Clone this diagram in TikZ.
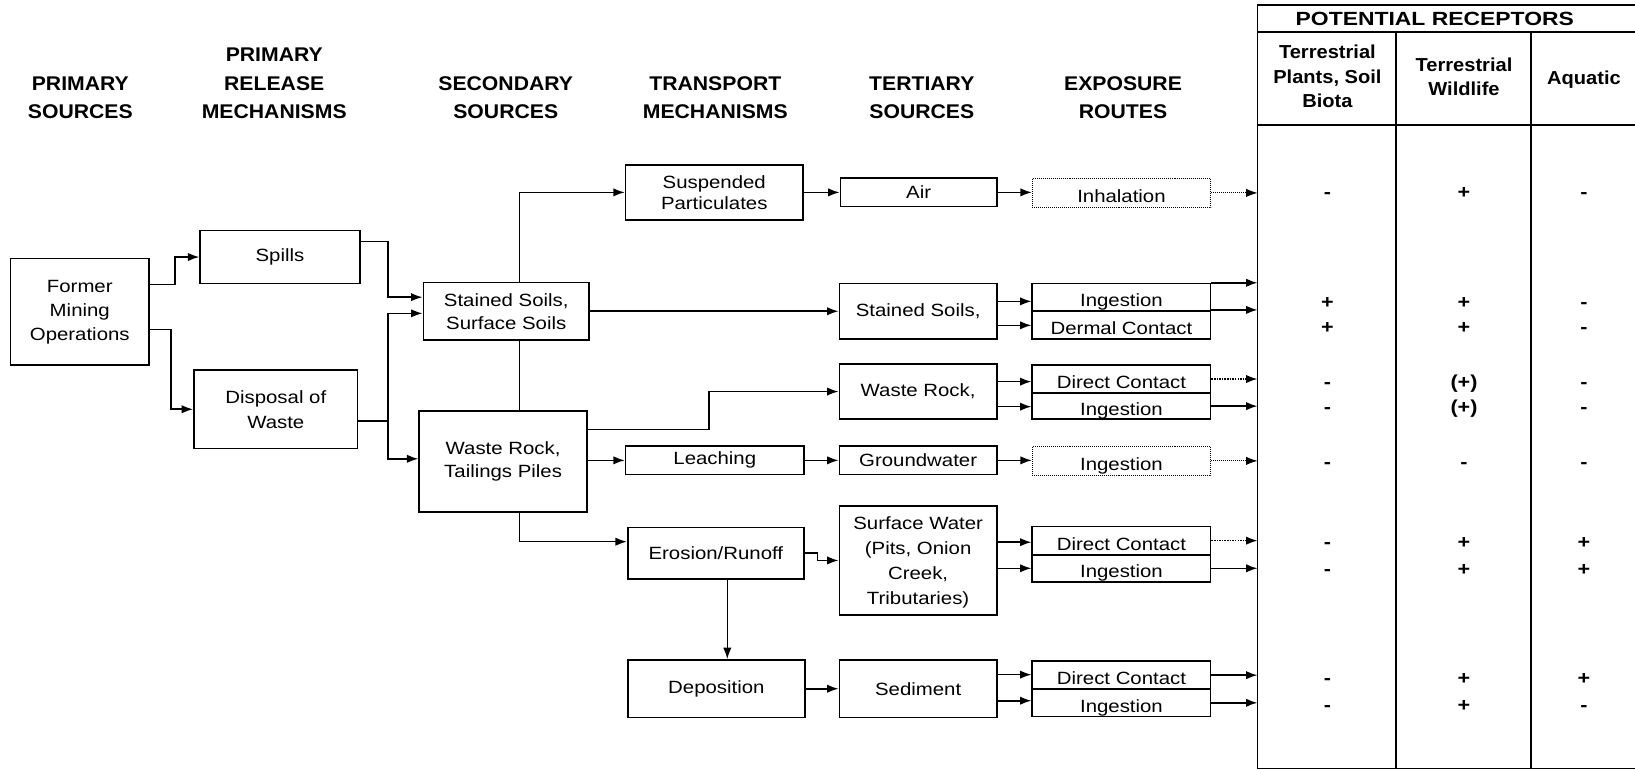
\documentclass[tikz,border=0pt]{standalone}
\usepackage{fontspec}
\setmainfont{Liberation Sans}[FakeStretch=1.15]
\newfontfamily\headfont{Liberation Sans}[FakeStretch=1.07]
\newfontfamily\widefont{Liberation Sans}[FakeStretch=1.2]
\usetikzlibrary{arrows.meta}
\begin{document}
\begin{tikzpicture}[x=1pt,y=-1pt,
 box/.style={draw, line width=1.6pt, inner sep=0pt, align=center, font=\fontsize{17}{22}\selectfont},
 route/.style={box, text height=18pt, text depth=0pt},
 dotbox/.style={route, line width=0.9pt, densely dotted},
 conn/.style={line width=1.5pt, -{Latex[length=11pt,width=8pt]}},
 plain/.style={line width=1.5pt},
 dotconn/.style={conn, line width=0.9pt, densely dotted},
 dotconnb/.style={conn, line width=1.5pt, densely dotted},
 head/.style={align=center, inner sep=0pt, font=\headfont\bfseries\fontsize{19}{27}\selectfont},
 colhead/.style={align=center, inner sep=0pt, font=\headfont\bfseries\fontsize{18}{23.5}\selectfont},
 val/.style={anchor=base, inner sep=0pt, font=\bfseries\fontsize{18}{20}\selectfont},
 tab/.style={line width=1.6pt}]
\useasboundingbox (0,0) rectangle (1568,738);

% headers
\node[head] (h1) at (77,93.5) {PRIMARY\\SOURCES};
\node[head] (h2) at (263,80) {PRIMARY\\RELEASE\\MECHANISMS};
\node[head] (h3) at (485,93.5) {SECONDARY\\SOURCES};
\node[head] (h4) at (686,93.5) {TRANSPORT\\MECHANISMS};
\node[head] (h5) at (884,93.5) {TERTIARY\\SOURCES};
\node[head] (h6) at (1077,93.5) {EXPOSURE\\ROUTES};

% table
\draw[tab] (1570,5) -- (1206,5) -- (1206,737) -- (1570,737);
\draw[tab] (1206,31) -- (1570,31);
\draw[tab] (1206,120) -- (1570,120);
\draw[tab] (1339,31) -- (1339,737);
\draw[tab] (1468,31) -- (1468,737);
\coordinate (tl) at (1206,0);
\node[inner sep=0pt, font=\widefont\bfseries\fontsize{18.3}{20}\selectfont] (pr) at (1376,18) {POTENTIAL RECEPTORS};
\node[colhead] (c1) at (1273,73.5) {Terrestrial\\Plants, Soil\\Biota};
\node[colhead] (c2) at (1404,73.5) {Terrestrial\\Wildlife};
\node[colhead] (c3) at (1519,76) {Aquatic};

% boxes
\node[box, minimum width=133, minimum height=102, font=\fontsize{17}{23}\selectfont] (former) at (76.5,299) {Former\\Mining\\Operations};
\node[box, minimum width=153, minimum height=51] (spills) at (268.5,246.5) {Spills};
\node[box, minimum width=157, minimum height=75, font=\fontsize{17}{24}\selectfont] (disposal) at (264.5,392.5) {Disposal of\\Waste};
\node[box, minimum width=159, minimum height=55] (stained) at (485.5,298.5) {Stained Soils,\\Surface Soils};
\node[box, minimum width=161, minimum height=97, font=\fontsize{17}{23}\selectfont] (waste) at (482.5,442.5) {Waste Rock,\\Tailings Piles};
\node[box, minimum width=170, minimum height=53, font=\fontsize{17}{20.5}\selectfont] (susp) at (685,184.5) {Suspended\\Particulates};
\node[box, minimum width=171, minimum height=27] (leach) at (685.5,441.5) {Leaching};
\node[box, minimum width=169, minimum height=49] (erosion) at (686.5,530.5) {Erosion/Runoff};
\node[box, minimum width=170, minimum height=55] (depos) at (687,660.5) {Deposition};
\node[box, minimum width=150, minimum height=27] (air) at (881,184.5) {Air};
\node[box, minimum width=151, minimum height=53] (tstained) at (880.5,298.5) {Stained Soils,};
\node[box, minimum width=151, minimum height=53] (twaste) at (880.5,375.5) {Waste Rock,};
\node[box, minimum width=151, minimum height=27] (ground) at (880.5,441.5) {Groundwater};
\node[box, minimum width=151, minimum height=105, font=\fontsize{17}{24}\selectfont, text depth=0pt] (surf) at (880.5,537.5) {Surface Water\\(Pits, Onion\\Creek,\\Tributaries)};
\node[box, minimum width=151, minimum height=55] (sed) at (880.5,660.5) {Sediment};

% exposure routes
\node[dotbox, minimum width=171, minimum height=28] (inhal) at (1075.5,185) {Inhalation};
\node[route, minimum width=171, minimum height=26] (ing1) at (1075.5,285) {Ingestion};
\node[route, minimum width=171, minimum height=27] (derm) at (1075.5,311.5) {Dermal Contact};
\node[route, minimum width=171, minimum height=27] (dc1) at (1075.5,363.5) {Direct Contact};
\node[route, minimum width=171, minimum height=25] (ing2) at (1075.5,389.5) {Ingestion};
\node[dotbox, minimum width=171, minimum height=28] (ing3) at (1075.5,442) {Ingestion};
\node[route, minimum width=171, minimum height=27] (dc2) at (1075.5,518.5) {Direct Contact};
\node[route, minimum width=171, minimum height=26] (ing4) at (1075.5,545) {Ingestion};
\node[route, minimum width=171, minimum height=27] (dc3) at (1075.5,647.5) {Direct Contact};
\node[route, minimum width=171, minimum height=26] (ing5) at (1075.5,674) {Ingestion};

% bus coordinates
\coordinate (busB) at (498,0);
\coordinate (depx) at (697.5,0);

% connectors
\draw[conn] ([yshift=26pt]former.east) -- ++(24,0) |- (spills.west);
\draw[conn] ([yshift=-17pt]former.east) -- ++(20,0) |- (disposal.west);
\draw[conn] ([yshift=15pt]spills.east) -| (372,285) -- ([yshift=13.5pt]stained.west);
\draw[conn] ([yshift=-11.5pt]disposal.east) -| (372,300.5) -- ([yshift=-2pt]stained.west);
\draw[conn] ([yshift=-11.5pt]disposal.east) -| (372,440) -- ([yshift=2.5pt]waste.west);
\draw[plain] (stained.south -| busB) -- (waste.north -| busB);
\draw[conn] (stained.north -| busB) |- (susp.west);
\draw[conn] (waste.south -| busB) |- ([yshift=11pt]erosion.west);
\draw[conn] (stained.east) -- (tstained.west);
\draw[conn] ([yshift=30.5pt]waste.east) -| (680,375.5) -- (twaste.west);
\draw[conn] (waste.east |- leach.west) -- (leach.west);
\draw[conn] (leach.east) -- (ground.west);
\draw[conn] (ground.east) -- (ground.east -| ing3.west);
\draw[conn] (susp.east) -- (air.west);
\draw[conn] (air.east) -- (air.east -| inhal.west);
\draw[conn] (erosion.east) -- ++(12,0) |- (surf.west);
\draw[conn] (erosion.south -| depx) -- (depos.north -| depx);
\draw[conn] (depos.east) -- (sed.west);

\draw[conn] ([yshift=9.5pt]tstained.east) -- ([yshift=-4pt]ing1.west);
\draw[conn] ([yshift=-13.5pt]tstained.east) -- ([yshift=-0.5pt]derm.west);
\draw[conn] ([yshift=9.5pt]twaste.east) -- ([yshift=-2.5pt]dc1.west);
\draw[conn] ([yshift=-14.5pt]twaste.east) -- ([yshift=-0.5pt]ing2.west);
\draw[conn] ([yshift=17.5pt]surf.east) -- ([yshift=-1.5pt]dc2.west);
\draw[conn] ([yshift=-7.5pt]surf.east) -- (ing4.west);
\draw[conn] ([yshift=13.5pt]sed.east) -- ([yshift=0.5pt]dc3.west);
\draw[conn] ([yshift=-11.5pt]sed.east) -- ([yshift=2pt]ing5.west);

\draw[dotconn] (inhal.east) -- (inhal.east -| tl);
\draw[conn] (ing1.north east) -- (ing1.north east -| tl);
\draw[conn] (derm.north east) -- (derm.north east -| tl);
\draw[dotconnb] (dc1.east) -- (dc1.east -| tl);
\draw[conn] (ing2.east) -- (ing2.east -| tl);
\draw[dotconn] (ing3.east) -- (ing3.east -| tl);
\draw[dotconnb] (dc2.east) -- (dc2.east -| tl);
\draw[conn] (ing4.east) -- (ing4.east -| tl);
\draw[conn] (dc3.east) -- (dc3.east -| tl);
\draw[conn] (ing5.east) -- (ing5.east -| tl);

% values
\foreach \rowy/\va/\vb/\vc [count=\i] in {184/-/+/-, 290/+/+/-, 314/+/+/-, 367/-/(+)/-, 391/-/(+)/-, 443/-/-/-, 520/-/+/+, 546/-/+/+, 650/-/+/+, 676/-/+/-}{
  \node[val] (va\i) at (1273,\rowy+6) {\va};
  \node[val] (vb\i) at (1404,\rowy+6) {\vb};
  \node[val] (vc\i) at (1519,\rowy+6) {\vc};
}
\end{tikzpicture}
\end{document}
